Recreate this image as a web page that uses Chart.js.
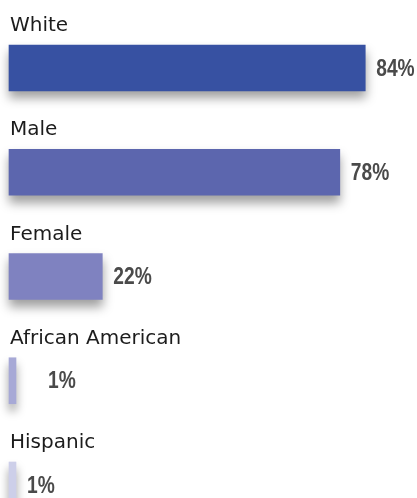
<!DOCTYPE html>
<html>
<head>
<meta charset="utf-8">
<script src="https://cdn.jsdelivr.net/npm/chart.js@4.4.1/dist/chart.umd.min.js"></script>
<style>
  html, body { margin: 0; padding: 0; background: #fff; overflow: hidden; }
  #wrap { position: relative; width: 417px; height: 498px; }
</style>
</head>
<body>
<div id="wrap"><canvas id="chart"></canvas></div>
<script>
/* ── Dati ─────────────────────────────────────────── */
var categories = ['White', 'Male', 'Female', 'African American', 'Hispanic'];
var values     = [84, 78, 22, 1, 1];
var barColors  = ['#3751a2', '#5c66ae', '#7f82c0', '#a7a9d6', '#cdcfe9'];

/* ── Ombra sotto le barre ─────────────────────────── */
var shadowPlugin = {
  id: 'barShadow',
  beforeDatasetsDraw: function(chart) {
    var ctx = chart.ctx;
    ctx.save();
    ctx.shadowColor   = 'rgba(0,0,0,0.38)';
    ctx.shadowBlur    = 10;
    ctx.shadowOffsetX = 0;
    ctx.shadowOffsetY = 7;
  },
  afterDatasetsDraw: function(chart) {
    chart.ctx.restore();
  }
};

/* ── Etichette: categoria sopra, valore a destra ──── */
var labelPlugin = {
  id: 'rowLabels',
  afterDatasetsDraw: function(chart, args, opts) {
    var ctx  = chart.ctx;
    var meta = chart.getDatasetMeta(0);
    meta.data.forEach(function(bar, i) {
      var top = bar.y - bar.height / 2;
      ctx.save();
      ctx.font = '20px "DejaVu Sans", sans-serif';
      ctx.fillStyle = '#1c1c1c';
      ctx.textAlign = 'left';
      ctx.textBaseline = 'alphabetic';
      ctx.fillText(categories[i], 10, top - 14);
      ctx.restore();

      /* testo "narrow": Liberation Sans bold compresso */
      ctx.save();
      ctx.translate(bar.x + opts.gaps[i], bar.y + 1);
      ctx.scale(0.8, 1);
      ctx.font = 'bold 24px "Liberation Sans", Arial, sans-serif';
      ctx.fillStyle = '#4a4a4a';
      ctx.textAlign = 'left';
      ctx.textBaseline = 'middle';
      ctx.fillText(values[i] + '%', 0, 0);
      ctx.restore();
    });
  }
};

new Chart(document.getElementById('chart'), {
  type: 'bar',
  data: {
    labels: categories,
    datasets: [{
      data:            values,
      backgroundColor: barColors,
      borderWidth:     0,
      barThickness:    46,
      minBarLength:    7,
      clip:            false,
    }],
  },
  options: {
    indexAxis: 'y',
    responsive: true,
    maintainAspectRatio: false,
    animation: false,
    layout: { padding: { left: 9, right: 0, top: 68, bottom: 13 } },
    plugins: {
      legend:  { display: false },
      tooltip: { enabled: false },
      rowLabels: { gaps: [11, 11, 11, 32, 11] },
    },
    scales: {
      x: { display: false, min: 0, max: 96.2 },
      y: { display: false, offset: false, grid: { display: false } },
    },
  },
  plugins: [shadowPlugin, labelPlugin],
});
</script>
</body>
</html>
